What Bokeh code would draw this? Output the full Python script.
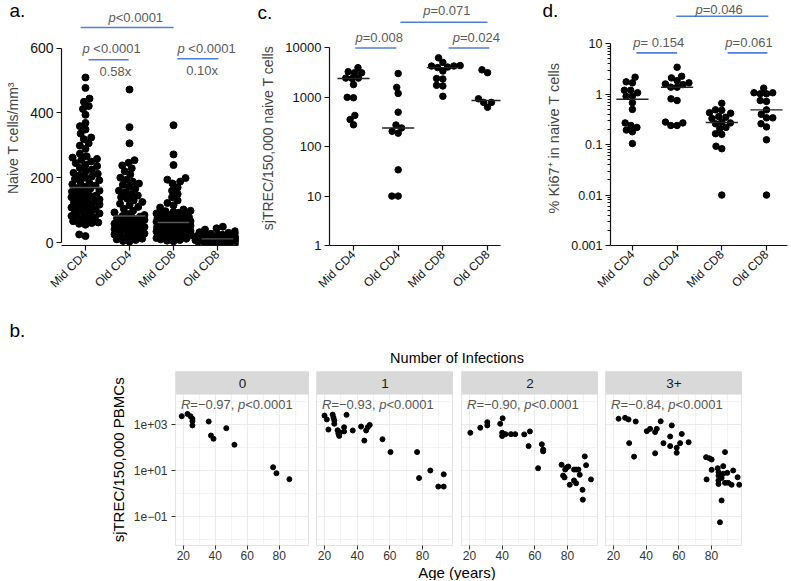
import numpy as np
from math import pi
from bokeh.plotting import figure
from bokeh.layouts import column, row
from bokeh.models import Range1d, FixedTicker, Label, BoxAnnotation, CustomJSTickFormatter
from bokeh.embed import file_html
from bokeh.resources import INLINE

FONT = "Liberation Sans"
BLUE = "#4D7FD9"
GRAY_TXT = "#5A5A5A"

categories = ["Mid CD4", "Old CD4", "Mid CD8", "Old CD8"]

# ---------------- panel a: naive T cells / mm3 ----------------
naive_mid_cd4 = [509, 477, 444, 434, 421, 412, 394, 369, 359, 349, 336, 324, 319, 306, 299, 289, 274, 266, 262, 258,
                 255, 250, 245, 240, 236, 230, 225, 220, 215, 212, 208, 204, 200, 196, 192, 188, 184, 180, 176, 172,
                 168, 165, 160, 157, 153, 150, 147, 145, 143, 140, 137, 133, 130, 127, 125, 123, 120, 117, 113, 110,
                 108, 106, 103, 100, 97, 93, 90, 86, 82, 80, 78, 74, 70, 66, 62, 60, 58, 55, 25, 20]
naive_old_cd4 = [472, 356, 306, 254, 246, 238, 229, 220, 210, 200, 194, 188, 182, 178, 172, 166, 160, 155, 150, 145,
                 140, 135, 130, 125, 120, 115, 110, 104, 98, 93, 88, 85, 82, 80, 78, 75, 72, 70, 68, 65,
                 62, 60, 58, 55, 52, 50, 48, 45, 42, 40, 38, 35, 32, 30, 28, 25, 22, 20, 18, 15, 12, 10, 8, 5, 3]
naive_mid_cd8 = [362, 272, 239, 199, 194, 188, 182, 170, 160, 150, 140, 130, 122, 115, 108, 102, 98, 97, 95, 92,
                 90, 88, 87, 85, 82, 80, 78, 77, 76, 74, 72, 71, 70, 68, 67, 66, 64, 62, 61, 60,
                 58, 57, 56, 54, 52, 51, 50, 48, 47, 46, 44, 42, 41, 40, 38, 37, 36, 34, 32, 31,
                 30, 28, 27, 26, 24, 22, 20, 18, 16, 14, 12, 10, 8, 6, 4]
naive_old_cd8 = [49, 44, 40, 35, 32, 30, 27, 25, 24, 22, 20, 19, 18, 17, 16, 15, 14, 13, 12, 12,
                 11, 10, 10, 9, 8, 8, 7, 6, 6, 5, 5, 4, 4, 3, 3, 2, 2, 1, 1, 0]

# ---------------- panel c: sjTREC / 150,000 naive T cells ----------------
sjtrec_mid_cd4 = [3990, 3300, 3140, 3140, 2450, 2450, 2400, 1810, 1000, 980, 430, 355, 278]
sjtrec_old_cd4 = [3030, 1590, 1200, 500, 275, 240, 205, 188, 34, 10, 10]
sjtrec_mid_cd8 = [6300, 5100, 4400, 4300, 4300, 4100, 4000, 3400, 2400, 2350, 1750, 1700, 1050]
sjtrec_old_cd8 = [3600, 3150, 935, 790, 790, 630]

# ---------------- panel d: % Ki67+ in naive T cells ----------------
ki67_mid_cd4 = [2.18, 1.76, 1.68, 1.2, 1.2, 1.07, 0.91, 0.91, 0.68, 0.5, 0.27, 0.24, 0.22, 0.195, 0.18, 0.105]
ki67_old_cd4 = [3.43, 2.27, 2.11, 1.86, 1.68, 1.6, 1.55, 1.38, 1.38, 0.81, 0.75, 0.28, 0.27, 0.24, 0.24]
ki67_mid_cd8 = [0.66, 0.49, 0.48, 0.43, 0.42, 0.36, 0.35, 0.33, 0.28, 0.27, 0.26, 0.22, 0.21, 0.165, 0.16,
                0.093, 0.083, 0.010]
ki67_old_cd8 = [1.32, 1.07, 1.07, 1.02, 1.02, 0.75, 0.72, 0.49, 0.40, 0.34, 0.34, 0.26, 0.225, 0.125, 0.010]

# ---------------- panel b: sjTREC / 150,000 PBMCs vs age, by infections ----------------
infection_groups = ["0", "1", "2", "3+"]
age_inf0 = [19, 22.6, 24.5, 25.7, 25.7, 25.7, 35.9, 37.3, 38.9, 46.9, 52, 76.2, 78.3, 86.4]
trec_inf0 = [2290, 2880, 2290, 1780, 1410, 912, 1350, 331, 240, 692, 132, 13.8, 7.6, 4.2]
age_inf1 = [20, 21.4, 25, 25.5, 26, 26, 22.4, 28, 28.5, 29, 29.5, 32, 32, 33.5, 37.3, 42.4, 45.5, 46.5, 47.7, 44.4,
            55.5, 60.4, 76.7, 84.8, 77.9, 93, 89.7, 93]
trec_inf1 = [2450, 1660, 2690, 2000, 1510, 1070, 603, 560, 400, 320, 450, 760, 500, 2630, 550, 810, 550, 760, 955, 200,
             229, 63, 63, 10, 4.7, 6.8, 2.0, 2.0]
age_inf2 = [20.5, 26.6, 30.9, 30.9, 38.8, 40.3, 40, 40, 42, 45.4, 48, 53.5, 57, 56.2, 64.3, 65.1, 65.1, 62, 76.4, 77.3,
            78.2, 78.6, 79.5, 80.5, 81.4, 84, 85.3, 86.7, 84, 85.3, 87.5, 90.6, 91.4, 94.4, 89.2, 89.4]
trec_inf2 = [437, 724, 1260, 912, 1070, 1860, 437, 316, 380, 380, 380, 372, 501, 115, 138, 81, 68, 12.6, 17.8, 6.0,
             5.0, 11, 13.5, 14.8, 2.4, 11, 11, 11, 3.7, 2.8, 6.5, 41, 17, 4.1, 1.45, 0.54]
age_inf3 = [23.1, 27.1, 29.2, 33.6, 29.6, 32.6, 40.4, 42.4, 45.5, 46.5, 48.9, 55.7, 54.7, 61.8, 50.6, 54.7, 58.7, 58.7,
            60.8, 66, 45.5, 76.7, 78.7, 80.1, 88.3, 80.1, 77, 83.8, 87.2, 84.3, 84.3, 84.3, 84.3, 86.2, 89.7, 90.3,
            93.3, 92.3, 96, 97, 88.3, 87.2, 86.2, 85.2]
trec_inf3 = [1780, 1950, 1660, 1350, 155, 40, 513, 646, 468, 646, 1380, 912, 302, 389, 155, 115, 98, 59, 155, 170,
             56, 38, 34, 30, 63, 10.7, 4.1, 12.6, 15.5, 8.5, 6.0, 3.7, 2.6, 4.7, 7.9, 2.9, 10, 2.4, 5.1, 2.4,
             2.9, 7.2, 0.5, 0.056]
cor_r = ["\u22120.97", "\u22120.93", "\u22120.90", "\u22120.84"]
cor_p = ["<0.0001", "<0.0001", "<0.0001", "<0.0001"]

# significance annotations
p_a = ["<0.0001", "<0.0001", "<0.0001"]
fold_a = ["0.58x", "0.10x"]
p_c = ["=0.071", "=0.008", "=0.024"]
p_d = ["=0.046", "= 0.154", "=0.061"]

# ---------------- helpers ----------------
W = {c: 0.556 for c in "0123456789"}
W.update({".": 0.278, ",": 0.278, " ": 0.278, "=": 0.584, "<": 0.584, "\u2212": 0.584, "p": 0.556, "R": 0.722,
          "x": 0.5})


def tw(s, size):
    return sum(W.get(c, 0.556) for c in s) * size


def rich(p, x, y, pieces, size=13, color=GRAY_TXT, align="left"):
    total = sum(tw(t, size) for t, _ in pieces)
    off = -total / 2 if align == "center" else 0.0
    for t, it in pieces:
        if t.strip():
            p.add_layout(Label(x=x, y=y, x_offset=off, text=t, text_font=FONT, text_font_size=f"{size}px",
                               text_font_style="italic" if it else "normal", text_color=color,
                               text_baseline="middle", text_align="left"))
        off += tw(t, size)


def swarm(vals, py, px, d, log=False, cap=None):
    v = np.asarray(vals, float)
    ys = (np.log10(v) if log else v) * py
    order = np.argsort(ys, kind="stable")
    placed = []
    offs = np.zeros(len(v))
    for i in order:
        y = ys[i]
        cands = [0.0]
        for (qx, qy) in placed:
            dy = abs(qy - y)
            if dy < d:
                dx = np.sqrt(d * d - dy * dy)
                cands += [qx + dx, qx - dx]
        cands.sort(key=lambda c: (abs(c), c))
        chosen = None
        for c in cands:
            if cap is not None and abs(c) > cap:
                continue
            if all((c - qx) ** 2 + (y - qy) ** 2 >= d * d - 1e-6 for qx, qy in placed):
                chosen = c
                break
        if chosen is None:
            grid = np.arange(-cap, cap + 0.01, 0.5)
            best, best_key = 0.0, None
            for g in grid:
                md = min((g - qx) ** 2 + (y - qy) ** 2 for qx, qy in placed)
                key = (round(md, 3), -abs(g))
                if best_key is None or key > best_key:
                    best, best_key = g, key
            chosen = float(best)
        placed.append((chosen, y))
        offs[i] = chosen
    return offs / px


def prism_fig(width, height, xr, yr, ytype, left, right, bottom, ylabel, yticks, ybounds,
              tick_size, label_size, minor=None):
    p = figure(width=width, height=height, x_range=xr, y_range=yr, y_axis_type=ytype,
               output_backend="svg", toolbar_location=None, min_border_left=left,
               min_border_right=right, min_border_top=0, min_border_bottom=bottom)
    p.xgrid.visible = False
    p.ygrid.visible = False
    p.outline_line_color = None
    p.background_fill_color = "white"
    p.xaxis.ticker = FixedTicker(ticks=[0, 1, 2, 3])
    p.xaxis.major_label_overrides = {i: c for i, c in enumerate(categories)}
    p.xaxis.major_label_orientation = pi / 4
    p.xaxis.major_label_text_font_size = "12px"
    p.xaxis.major_label_standoff = 2
    p.yaxis.ticker = FixedTicker(ticks=yticks, minor_ticks=minor or [])
    p.yaxis.formatter = CustomJSTickFormatter(code="return String(tick);")
    p.yaxis.bounds = ybounds
    p.yaxis.axis_label = ylabel
    p.yaxis.axis_label_text_font_size = f"{label_size}px"
    p.yaxis.axis_label_text_font_style = "normal"
    p.yaxis.axis_label_text_font = FONT
    p.yaxis.axis_label_standoff = 6
    p.yaxis.major_label_text_font_size = f"{tick_size}px"
    p.yaxis.major_label_standoff = 3
    for ax in (p.xaxis[0], p.yaxis[0]):
        ax.axis_line_width = 1.2
        ax.axis_line_color = "#111111"
        ax.major_tick_line_color = "#111111"
        ax.major_tick_line_width = 1.2
        ax.major_tick_out = 5
        ax.major_tick_in = 0
        ax.minor_tick_line_color = "#111111" if (ax is p.yaxis[0] and minor) else None
        ax.minor_tick_out = 3
        ax.minor_tick_in = 0
        ax.major_label_text_font = FONT
        ax.major_label_text_color = "#111111"
    return p


def blank(width, height, xr, yr):
    # a plain drawing area whose frame fills the whole canvas (pixel coordinates)
    p = figure(width=width, height=height, x_range=Range1d(*xr), y_range=Range1d(*yr),
               output_backend="svg", toolbar_location=None, min_border=0)
    p.axis.visible = False
    p.grid.visible = False
    p.outline_line_color = None
    return p


def draw_groups(p, groups, py, px, d, log, size, med_color, caps=None):
    for i, vals in enumerate(groups):
        off = swarm(vals, py, px, d, log, None if caps is None else caps[i])
        p.scatter(i + off, vals, size=size, color="black", marker="circle")
        med = float(np.median(vals))
        p.segment(x0=[i - 0.36], y0=[med], x1=[i + 0.36], y1=[med], line_color=med_color, line_width=1.4)


def sig_lines(p, segs):
    p.segment(x0=[s[0] for s in segs], y0=[s[2] for s in segs], x1=[s[1] for s in segs],
              y1=[s[2] for s in segs], line_color=BLUE, line_width=1.6)


TAG = dict(text_font=FONT, text_font_size="19px", text_color="black", text_baseline="middle", text_align="left")

# ---------------- panel a ----------------
ta = blank(240, 30, (-1.932, 3.523), (30, 0))
ta.add_layout(Label(x=-1.727, y=10, text="a.", **TAG))
sig_lines(ta, [(-0.11, 2.0, 27)])
rich(ta, 0.523, 17, [("p", True), (p_a[0], False)])

fa = prism_fig(240, 288, (-0.545, 3.477), (-9, 654), "linear", 61, 2, 67,
               "Naive T cells/mm\u00b3", [0, 200, 400, 600], (0, 600), 14, 14)
draw_groups(fa, [naive_mid_cd4, naive_old_cd4, naive_mid_cd8, naive_old_cd8], 1 / 3, 44, 6.5, False, 7,
            "#555555", caps=[14, 15, 17, 22])
sig_lines(fa, [(0.07, 0.98, 564), (2.09, 3.02, 567)])
rich(fa, -0.068, 600, [("p", True), (" ", False), (p_a[1], False)])
rich(fa, 2.09, 600, [("p", True), (" ", False), (p_a[2], False)])
rich(fa, 0.68, 528, [(fold_a[0], False)], align="center")
rich(fa, 2.65, 531, [(fold_a[1], False)], align="center")

# ---------------- panel c ----------------
tc = blank(278, 30, (-2.530, 3.694), (30, 0))
tc.add_layout(Label(x=-2.149, y=12, text="c.", **TAG))
sig_lines(tc, [(1.05, 3.0, 21.7)])
rich(tc, 1.56, 10, [("p", True), (p_c[0], False)])

fc = prism_fig(278, 288, (-0.537, 3.29), (1, 10 ** 4.353), "log", 89, 18, 70,
               "sjTREC/150,000 naive T cells", [1, 10, 100, 1000, 10000], (1, 10000), 13, 14)
draw_groups(fc, [sjtrec_mid_cd4, sjtrec_old_cd4, sjtrec_mid_cd8, sjtrec_old_cd8], 50.15, 44.67, 6.3, True, 6.5,
            "#222222")
sig_lines(fc, [(0.04, 0.96, 1e4), (2.13, 3.04, 1e4)])
rich(fc, 0.045, 10 ** 4.21, [("p", True), (p_c[1], False)])
rich(fc, 2.22, 10 ** 4.21, [("p", True), (p_c[2], False)])

# ---------------- panel d ----------------
td = blank(273, 30, (-2.552, 3.559), (30, 0))
td.add_layout(Label(x=-2.015, y=10, text="d.", **TAG))
sig_lines(td, [(0.98, 3.04, 15.7)])
rich(td, 1.41, 8.5, [("p", True), (p_d[0], False)])

d_minor = [k * 10.0 ** e for e in range(-3, 1) for k in range(2, 10)]
fd = prism_fig(273, 288, (-0.49, 3.47), (0.001, 10 ** 1.264), "log", 92, 4, 73,
               "% Ki67\u207a in naive T cells", [0.001, 0.01, 0.1, 1, 10], (0.001, 10), 12.5, 14.5,
               minor=d_minor)
draw_groups(fd, [ki67_mid_cd4, ki67_old_cd4, ki67_mid_cd8, ki67_old_cd8], 50.42, 44.67, 6.3, True, 6.5, "#222222")
sig_lines(fd, [(0.09, 1.0, 10 ** 0.82), (2.13, 3.02, 10 ** 0.82)])
rich(fd, 0.02, 10 ** 1.03, [("p", True), (p_d[1], False)])
rich(fd, 2.08, 10 ** 1.03, [("p", True), (p_d[2], False)])

# ---------------- panel b (facets) ----------------
XR = (15.1, 99.0)
YR = (10 ** -2.26, 10 ** 5.304)
STRIP_BOTTOM = 10 ** 4.304
GRID = "#EBEBEB"


def facet_fig(idx, width, left, ages, trecs):
    p = figure(width=width, height=194, x_range=XR, y_range=YR, y_axis_type="log",
               output_backend="svg", toolbar_location=None, min_border_left=left,
               min_border_right=0, min_border_top=0, min_border_bottom=20)
    p.outline_line_color = "#E3E3E3"
    xt = FixedTicker(ticks=[20, 40, 60, 80], minor_ticks=[30, 50, 70, 90])
    yt = FixedTicker(ticks=[0.1, 10, 1000], minor_ticks=[0.01, 1, 100, 10000])
    p.xaxis.ticker = xt
    p.yaxis.ticker = yt
    p.xgrid.ticker = xt
    p.ygrid.ticker = yt
    for g in (p.xgrid[0], p.ygrid[0]):
        g.grid_line_color = GRID
        g.grid_line_width = 1.1
        g.minor_grid_line_color = GRID
        g.minor_grid_line_width = 0.6
    p.yaxis.formatter = CustomJSTickFormatter(
        code="const e = Math.round(Math.log10(tick)); return '1e' + (e < 0 ? '\u2212' : '+') + String(Math.abs(e)).padStart(2, '0');")
    for ax in (p.xaxis[0], p.yaxis[0]):
        ax.axis_line_color = None
        ax.major_tick_line_color = "#333333"
        ax.major_tick_out = 4
        ax.major_tick_in = 0
        ax.minor_tick_line_color = None
        ax.major_label_text_font = FONT
        ax.major_label_text_font_size = "12px"
        ax.major_label_text_color = "#333333"
    p.xaxis.major_label_standoff = 1
    p.yaxis.major_label_standoff = 4
    if idx > 0:
        p.yaxis.visible = False
    p.scatter(ages, trecs, size=5, color="black", marker="circle")
    p.add_layout(BoxAnnotation(bottom=STRIP_BOTTOM, fill_color="#D9D9D9", fill_alpha=1.0, line_color=None))
    p.add_layout(Label(x=(XR[0] + XR[1]) / 2, y=10 ** 4.804, text=infection_groups[idx], text_font=FONT,
                       text_font_size="13.5px", text_color="#1A1A1A", text_align="center",
                       text_baseline="middle"))
    rich(p, 18.5, 10 ** 3.87, [("R", True), ("=" + cor_r[idx] + ", ", False), ("p", True), (cor_p[idx], False)],
         size=13, color="#555555")
    return p


# y-axis title of the facet row, centred on the panels (below the strips)
ylab_b = blank(130, 194, (0, 130), (565, 371))
ylab_b.add_layout(Label(x=118, y=469.5, text="sjTREC/150,000 PBMCs", angle=pi / 2, text_font=FONT,
                        text_font_size="15px", text_color="black", text_align="center", text_baseline="middle"))

b0 = facet_fig(0, 179, 42, age_inf0, trec_inf0)
b1 = facet_fig(1, 144, 7, age_inf1, trec_inf1)
b2 = facet_fig(2, 145, 8, age_inf2, trec_inf2)
b3 = facet_fig(3, 144, 7, age_inf3, trec_inf3)

hdr = blank(791, 53, (0, 791), (371, 318))
hdr.add_layout(Label(x=9, y=330, text="b.", **TAG))
hdr.add_layout(Label(x=456.5, y=357, text="Number of Infections", text_font=FONT, text_font_size="14.5px",
                     text_color="black", text_align="center", text_baseline="middle"))

ftr = blank(791, 15, (0, 791), (580, 565))
ftr.add_layout(Label(x=456.5, y=571.5, text="Age (years)", text_font=FONT, text_font_size="15px",
                     text_color="black", text_align="center", text_baseline="middle"))

layout = column(row(ta, tc, td), row(fa, fc, fd), hdr, row(ylab_b, b0, b1, b2, b3), ftr)
open("out.html", "w").write(file_html(layout, INLINE))
